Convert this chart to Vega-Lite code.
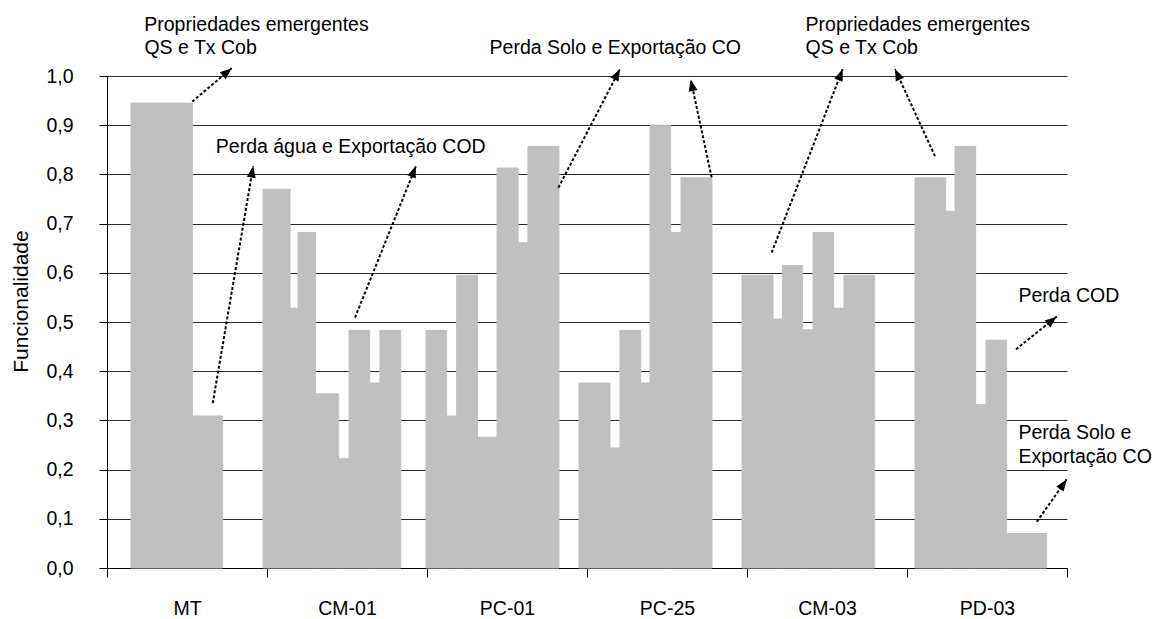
{
  "$schema": "https://vega.github.io/schema/vega-lite/v6.json",
  "width": 960,
  "height": 492,
  "autosize": {"type": "none"},
  "padding": {"left": 107, "top": 76, "right": 90, "bottom": 51},
  "background": "white",
  "config": {"view": {"stroke": null}, "font": "Liberation Sans"},
  "datasets": {
    "barras": [
      {"grupo": "MT", "inicio": 0.150, "fim": 0.533, "valor": 0.945},
      {"grupo": "MT", "inicio": 0.533, "fim": 0.723, "valor": 0.309},
      {"grupo": "CM-01", "inicio": 0.975, "fim": 1.144, "valor": 0.770},
      {"grupo": "CM-01", "inicio": 1.144, "fim": 1.194, "valor": 0.528},
      {"grupo": "CM-01", "inicio": 1.194, "fim": 1.304, "valor": 0.682},
      {"grupo": "CM-01", "inicio": 1.304, "fim": 1.448, "valor": 0.354},
      {"grupo": "CM-01", "inicio": 1.448, "fim": 1.5125, "valor": 0.222},
      {"grupo": "CM-01", "inicio": 1.5125, "fim": 1.642, "valor": 0.483},
      {"grupo": "CM-01", "inicio": 1.642, "fim": 1.706, "valor": 0.376},
      {"grupo": "CM-01", "inicio": 1.706, "fim": 1.836, "valor": 0.483},
      {"grupo": "PC-01", "inicio": 1.994, "fim": 2.123, "valor": 0.483},
      {"grupo": "PC-01", "inicio": 2.123, "fim": 2.185, "valor": 0.309},
      {"grupo": "PC-01", "inicio": 2.185, "fim": 2.316, "valor": 0.595},
      {"grupo": "PC-01", "inicio": 2.316, "fim": 2.4375, "valor": 0.266},
      {"grupo": "PC-01", "inicio": 2.4375, "fim": 2.569, "valor": 0.813},
      {"grupo": "PC-01", "inicio": 2.569, "fim": 2.631, "valor": 0.661},
      {"grupo": "PC-01", "inicio": 2.631, "fim": 2.825, "valor": 0.857},
      {"grupo": "PC-25", "inicio": 2.950, "fim": 3.144, "valor": 0.376},
      {"grupo": "PC-25", "inicio": 3.144, "fim": 3.206, "valor": 0.244},
      {"grupo": "PC-25", "inicio": 3.206, "fim": 3.336, "valor": 0.483},
      {"grupo": "PC-25", "inicio": 3.336, "fim": 3.394, "valor": 0.376},
      {"grupo": "PC-25", "inicio": 3.394, "fim": 3.523, "valor": 0.900},
      {"grupo": "PC-25", "inicio": 3.523, "fim": 3.5875, "valor": 0.682},
      {"grupo": "PC-25", "inicio": 3.5875, "fim": 3.781, "valor": 0.793},
      {"grupo": "CM-03", "inicio": 3.969, "fim": 4.1625, "valor": 0.595},
      {"grupo": "CM-03", "inicio": 4.1625, "fim": 4.221, "valor": 0.506},
      {"grupo": "CM-03", "inicio": 4.221, "fim": 4.3475, "valor": 0.615},
      {"grupo": "CM-03", "inicio": 4.3475, "fim": 4.4125, "valor": 0.484},
      {"grupo": "CM-03", "inicio": 4.4125, "fim": 4.542, "valor": 0.682},
      {"grupo": "CM-03", "inicio": 4.542, "fim": 4.606, "valor": 0.528},
      {"grupo": "CM-03", "inicio": 4.606, "fim": 4.798, "valor": 0.595},
      {"grupo": "PD-03", "inicio": 5.050, "fim": 5.242, "valor": 0.793},
      {"grupo": "PD-03", "inicio": 5.242, "fim": 5.300, "valor": 0.725},
      {"grupo": "PD-03", "inicio": 5.300, "fim": 5.429, "valor": 0.857},
      {"grupo": "PD-03", "inicio": 5.429, "fim": 5.494, "valor": 0.332},
      {"grupo": "PD-03", "inicio": 5.494, "fim": 5.623, "valor": 0.463},
      {"grupo": "PD-03", "inicio": 5.623, "fim": 5.873, "valor": 0.070}
    ],
    "setas": [
      {"x_ini": 0.533, "y_ini": 0.948, "x_fim": 0.779, "y_fim": 1.016},
      {"x_ini": 0.661, "y_ini": 0.335, "x_fim": 0.914, "y_fim": 0.817},
      {"x_ini": 1.550, "y_ini": 0.509, "x_fim": 1.931, "y_fim": 0.817},
      {"x_ini": 2.821, "y_ini": 0.773, "x_fim": 3.206, "y_fim": 1.014},
      {"x_ini": 3.779, "y_ini": 0.794, "x_fim": 3.648, "y_fim": 0.993},
      {"x_ini": 4.154, "y_ini": 0.641, "x_fim": 4.598, "y_fim": 1.014},
      {"x_ini": 5.175, "y_ini": 0.837, "x_fim": 4.925, "y_fim": 1.014},
      {"x_ini": 5.681, "y_ini": 0.4445, "x_fim": 5.936, "y_fim": 0.511},
      {"x_ini": 5.811, "y_ini": 0.094, "x_fim": 5.998, "y_fim": 0.180}
    ],
    "notas": [
      {"texto": "Propriedades emergentes", "x": 0.233, "y": 1.092},
      {"texto": "QS e Tx Cob", "x": 0.234, "y": 1.045},
      {"texto": "Perda água e Exportação COD", "x": 0.680, "y": 0.843},
      {"texto": "Perda Solo e Exportação CO", "x": 2.391, "y": 1.045},
      {"texto": "Propriedades emergentes", "x": 4.366, "y": 1.092},
      {"texto": "QS e Tx Cob", "x": 4.366, "y": 1.045},
      {"texto": "Perda COD", "x": 5.697, "y": 0.541},
      {"texto": "Perda Solo e", "x": 5.697, "y": 0.2616},
      {"texto": "Exportação CO", "x": 5.697, "y": 0.2128}
    ]
  },
  "layer": [
    {
      "data": {"name": "barras"},
      "mark": {"type": "bar", "color": "#c0c0c0", "stroke": "#c0c0c0", "strokeWidth": 1},
      "encoding": {
        "x": {
          "field": "inicio",
          "type": "quantitative",
          "title": null,
          "scale": {"domain": [0, 6], "nice": false, "zero": false},
          "axis": {
            "values": [0, 0.5, 1, 1.5, 2, 2.5, 3, 3.5, 4, 4.5, 5, 5.5, 6],
            "labelExpr": "datum.value % 1 == 0.5 ? ['MT','CM-01','PC-01','PC-25','CM-03','PD-03'][floor(datum.value)] : ''",
            "grid": false,
            "domainColor": "#000000",
            "domainWidth": 1,
            "tickColor": "#000000",
            "tickWidth": 1,
            "tickSize": 9,
            "tickOpacity": {"condition": {"test": "datum.value % 1 != 0", "value": 0}, "value": 1},
            "labelFontSize": 19.5,
            "labelColor": "#000000",
            "labelFont": "Liberation Sans",
            "labelBaseline": "alphabetic",
            "labelPadding": 37,
            "labelFlush": false,
            "labelOverlap": false
          }
        },
        "x2": {"field": "fim"},
        "y": {
          "field": "valor",
          "type": "quantitative",
          "title": "Funcionalidade",
          "scale": {"domain": [0, 1], "nice": false},
          "axis": {
            "values": [0, 0.1, 0.2, 0.3, 0.4, 0.5, 0.6, 0.7, 0.8, 0.9, 1],
            "format": ".1f",
            "labelExpr": "replace(datum.label, '.', ',')",
            "grid": true,
            "gridColor": "#2a2a2a",
            "gridWidth": 1,
            "domainColor": "#000000",
            "tickColor": "#000000",
            "tickSize": 8,
            "labelFontSize": 19.5,
            "labelColor": "#000000",
            "labelFont": "Liberation Sans",
            "labelPadding": 26,
            "labelFlush": false,
            "titleFont": "Liberation Sans",
            "titleFontSize": 21,
            "titleFontWeight": "normal",
            "titleColor": "#000000",
            "titleX": -80,
            "titleY": 225,
            "titleBaseline": "alphabetic"
          }
        },
        "y2": {"datum": 0}
      }
    },
    {
      "data": {"name": "setas"},
      "mark": {"type": "rule", "color": "#000000", "strokeWidth": 2, "strokeDash": [3, 2]},
      "encoding": {
        "x": {"field": "x_ini", "type": "quantitative", "title": null, "scale": {"domain": [0, 6], "nice": false, "zero": false}},
        "y": {"field": "y_ini", "type": "quantitative", "title": "Funcionalidade", "scale": {"domain": [0, 1], "nice": false}},
        "x2": {"field": "x_fim"},
        "y2": {"field": "y_fim"}
      }
    },
    {
      "data": {"name": "setas"},
      "mark": {
        "type": "point",
        "shape": "M0,0L-1,2.6L1,2.6Z",
        "filled": true,
        "color": "#000000",
        "opacity": 1,
        "size": 81,
        "strokeWidth": 0,
        "angle": {"expr": "atan2((datum.x_fim - datum.x_ini) * 160, (datum.y_fim - datum.y_ini) * 492) * 180 / PI"}
      },
      "encoding": {
        "x": {"field": "x_fim", "type": "quantitative", "title": null, "scale": {"domain": [0, 6], "nice": false, "zero": false}},
        "y": {"field": "y_fim", "type": "quantitative", "title": "Funcionalidade", "scale": {"domain": [0, 1], "nice": false}}
      }
    },
    {
      "data": {"name": "notas"},
      "mark": {"type": "text", "align": "left", "baseline": "alphabetic", "fontSize": 19.5, "color": "#000000", "font": "Liberation Sans"},
      "encoding": {
        "x": {"field": "x", "type": "quantitative", "title": null, "scale": {"domain": [0, 6], "nice": false, "zero": false}},
        "y": {"field": "y", "type": "quantitative", "title": "Funcionalidade", "scale": {"domain": [0, 1], "nice": false}},
        "text": {"field": "texto"}
      }
    }
  ]
}
